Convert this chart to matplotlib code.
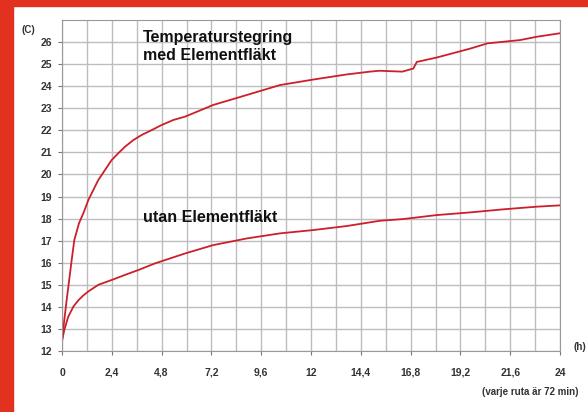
import numpy as np
import matplotlib.pyplot as plt
from matplotlib.patches import Rectangle

# hours and temperatures
t_med = [0, 0.11, 0.225, 0.466, 0.594, 0.819, 1.028, 1.269, 1.51, 1.75, 2.07, 2.39, 2.71,
         3.04, 3.44, 3.84, 4.32, 4.8, 5.37, 5.93, 7.29, 8.9, 10.5, 12.1, 13.7, 14.84,
         15.3, 16.4, 16.93, 17.1, 18.06, 19.66, 20.5, 22.07, 22.88, 24]
temp_med = [12.45, 13.4, 14.31, 16.12, 17.03, 17.79, 18.24, 18.84, 19.3, 19.75, 20.2, 20.65,
            20.96, 21.26, 21.56, 21.79, 22.01, 22.24, 22.47, 22.62, 23.15, 23.6, 24.05,
            24.3, 24.53, 24.66, 24.7, 24.66, 24.8, 25.1, 25.3, 25.7, 25.94, 26.09, 26.24, 26.4]

t_utan = [0, 0.11, 0.3, 0.546, 0.79, 1.03, 1.27, 1.75, 2.4, 3.04, 3.68, 4.48, 5.93, 7.29,
          8.9, 10.5, 12.1, 13.7, 14.84, 15.3, 16.45, 18.06, 19.66, 21.27, 22.88, 24]
temp_utan = [12.45, 12.95, 13.55, 14.01, 14.3, 14.52, 14.7, 15.0, 15.22, 15.45, 15.67, 15.97,
             16.42, 16.8, 17.1, 17.33, 17.48, 17.66, 17.83, 17.9, 17.98, 18.16, 18.28, 18.42,
             18.54, 18.6]

x_ticks = [0, 2.4, 4.8, 7.2, 9.6, 12, 14.4, 16.8, 19.2, 21.6, 24]
x_labels = ['0', '2,4', '4,8', '7,2', '9,6', '12', '14,4', '16,8', '19,2', '21,6', '24']
y_ticks = list(range(12, 27))

plt.rcParams['font.family'] = ['Liberation Sans', 'DejaVu Sans']

fig = plt.figure(figsize=(5.88, 4.12), dpi=100)
red = '#e2321f'
fig.patches.append(Rectangle((0, 0), 13 / 588, 1, transform=fig.transFigure, color=red, zorder=0))
fig.patches.append(Rectangle((0, 1 - 6 / 412), 1, 6 / 412, transform=fig.transFigure, color=red, zorder=0))

ax = fig.add_axes([62 / 588, 61 / 412, 498 / 588, 331 / 412])
line_col = '#cc1f2a'
ax.plot(t_med, temp_med, color=line_col, lw=1.3)
ax.plot(t_utan, temp_utan, color=line_col, lw=1.3)

ax.set_xlim(0, 24)
ax.set_ylim(12, 27)
ax.set_xticks(x_ticks)
ax.set_xticklabels(x_labels)
ax.set_xticks(np.arange(0, 24.01, 1.2), minor=True)
ax.set_yticks(y_ticks)
ax.grid(True, which='both', color='#bdbdbd', lw=1)
ax.set_axisbelow(True)
for s in ax.spines.values():
    s.set_color('#999999')
ax.tick_params(which='major', length=3, color='#777777', labelsize=7.5, labelcolor='#333333', pad=4)
ax.tick_params(axis='x', pad=9)
ax.tick_params(which='minor', length=0)
for lab in ax.get_xticklabels() + ax.get_yticklabels():
    lab.set_fontweight('bold')

ax.text(3.9, 25.2, 'Temperaturstegring\nmed Elementfläkt', fontsize=11.5, fontweight='bold',
        va='baseline', linespacing=1.2, color='#111111')
ax.text(3.9, 17.85, 'utan Elementfläkt', fontsize=11.5, fontweight='bold', va='baseline', color='#111111')

fig.text(22 / 588, 1 - 30 / 412, '(C)', fontsize=7, fontweight='bold', color='#333333', va='center')
fig.text(574 / 588, 1 - 347 / 412, '(h)', fontsize=7, fontweight='bold', color='#333333', va='center')
fig.text(530 / 588, 1 - 392 / 412, '(varje ruta är 72 min)', fontsize=7, fontweight='bold',
         color='#333333', ha='center', va='center')

fig.savefig('out.png', dpi=100, facecolor='white')
